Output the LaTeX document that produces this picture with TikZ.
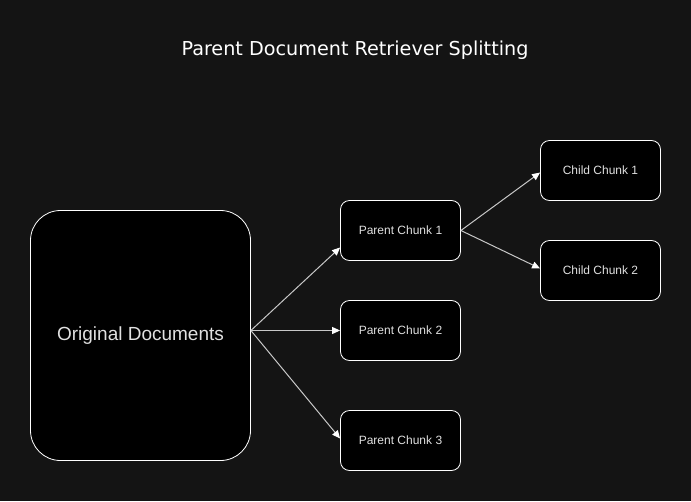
\documentclass[tikz,border=0pt]{standalone}
\usepackage{fontspec}
\setmainfont{Liberation Sans}
\newfontfamily\titlefont{DejaVu Sans}
\usetikzlibrary{arrows.meta}
\definecolor{bg}{HTML}{141414}
\definecolor{txt}{HTML}{E0E0E0}
\definecolor{edge}{HTML}{C8C8C8}
\begin{document}
\begin{tikzpicture}[x=1pt,y=-1pt,
  box/.style={draw=white,fill=black,line width=0.8pt,rounded corners=9pt,
    minimum width=120pt,minimum height=60pt,inner sep=0pt,text=txt,font=\fontsize{12}{14}\selectfont},
  conn/.style={draw=edge,line width=1pt,-{Triangle[length=8pt,width=7pt,fill=white,color=white]}}]
\useasboundingbox[fill=bg] (0,0) rectangle (691,501);
\node[text=white,font=\titlefont\fontsize{19.2}{22}\selectfont] (title) at (355,50.5) {Parent Document Retriever Splitting};
\node[box,rounded corners=30pt,minimum width=220pt,minimum height=250pt,font=\fontsize{19}{22}\selectfont] (orig) at (140.5,335.5) {Original Documents};
\node[box] (p1) at (400.5,230.5) {Parent Chunk 1};
\node[box] (p2) at (400.5,330.5) {Parent Chunk 2};
\node[box] (p3) at (400.5,440.5) {Parent Chunk 3};
\node[box] (c1) at (600.5,170.5) {Child Chunk 1};
\node[box] (c2) at (600.5,270.5) {Child Chunk 2};
\coordinate (o) at ([yshift=5pt]orig.east);
\draw[conn] (o) -- ([yshift=-17pt]p1.west);
\draw[conn] (o) -- (p2.west);
\draw[conn] (o) -- ([yshift=2pt]p3.west);
\draw[conn] (p1.east) -- ([yshift=-2pt]c1.west);
\draw[conn] (p1.east) -- ([yshift=2pt]c2.west);
\end{tikzpicture}
\end{document}
